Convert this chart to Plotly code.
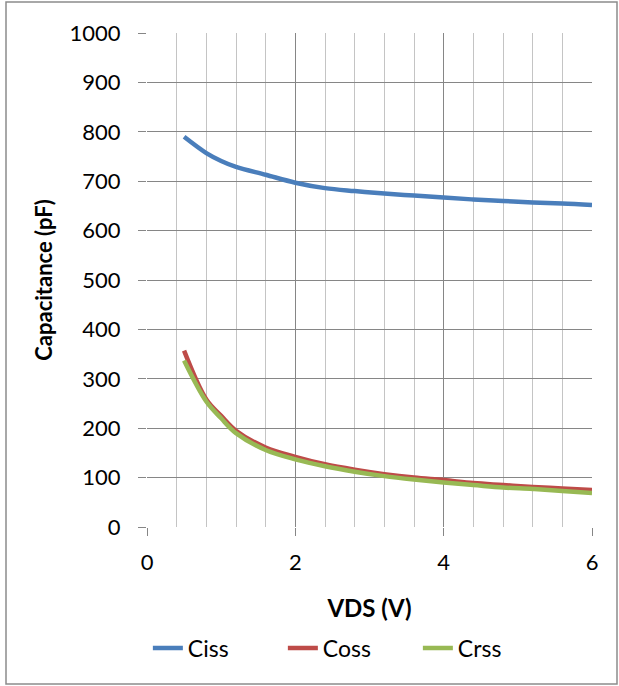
import plotly.graph_objects as go

# drain-source voltage (V) and capacitances (pF)
vds = [0.5, 0.8, 1.0, 1.2, 1.6, 2.0, 2.4, 2.8, 3.2, 3.6, 4.0, 4.4, 4.8, 5.2, 5.6, 6.0]
ciss = [790, 757, 741, 729, 713, 697, 686, 680, 675, 671, 667, 663, 660, 657, 655, 652]
coss = [357, 258, 225, 195, 161, 142, 127, 116, 107, 100, 95, 89, 85, 81, 78, 75]
crss = [337, 254, 220, 190, 156, 137, 123, 112, 103, 96, 90, 85, 80, 77, 73, 69]

series = [("Ciss", ciss, "#4a7ebb"), ("Coss", coss, "#be4b48"), ("Crss", crss, "#98b954")]

FONT = "Lato, 'Open Sans', sans-serif"

fig = go.Figure()
for name, vals, color in series:
    fig.add_trace(go.Scatter(
        x=vds, y=vals, name=name, mode="lines",
        line=dict(color=color, width=4.5, shape="spline", smoothing=1),
    ))

fig.update_layout(
    width=619, height=686, autosize=False,
    margin=dict(l=147, r=27, t=33, b=159),
    paper_bgcolor="white", plot_bgcolor="white",
    font=dict(family=FONT, size=22, color="black"),
    showlegend=True,
    legend=dict(
        orientation="h", x=0.457, xanchor="center", y=-0.245, yanchor="middle",
        font=dict(size=23), entrywidth=90, itemwidth=30,
        bgcolor="rgba(0,0,0,0)",
    ),
    xaxis=dict(
        range=[0, 6], dtick=2, tick0=0,
        showgrid=True, gridcolor="#868686", gridwidth=1,
        minor=dict(dtick=0.4, tick0=0, showgrid=True, gridcolor="#c4c4c4", gridwidth=1, ticks=""),
        ticks="outside", ticklen=8, tickcolor="#868686", tickwidth=1,
        showline=False, zeroline=False,
        ticklabelstandoff=8,
        tickfont=dict(size=22),
        title=dict(text="<b>VDS (V)</b>", font=dict(size=24), standoff=25),
    ),
    yaxis=dict(
        range=[0, 1000], dtick=100, tick0=0,
        showgrid=True, gridcolor="#868686", gridwidth=1,
        ticks="outside", ticklen=8, tickcolor="#868686", tickwidth=1,
        showline=False, zeroline=False,
        ticklabelstandoff=13,
        tickfont=dict(size=22),
        title=dict(text="<b>Capacitance (pF)</b>", font=dict(size=22), standoff=10),
    ),
)

# outer chart frame
fig.add_shape(type="rect", xref="paper", yref="paper",
              x0=(6 - 147) / 445, x1=(617 - 147) / 445,
              y0=(527 - 684) / 494, y1=(527 - 2) / 494,
              line=dict(color="#8c8c8c", width=1.5), layer="below")

fig.write_html("out.html", config={"displayModeBar": False},
               post_script="document.body.style.margin='0';")
